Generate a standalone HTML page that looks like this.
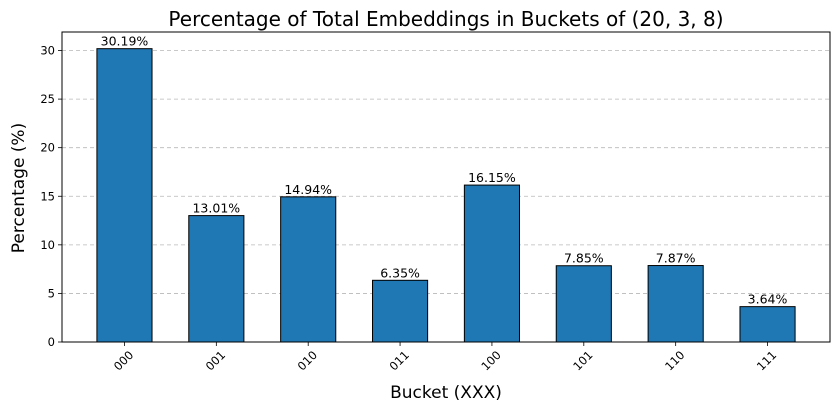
<!DOCTYPE html>
<html><head><meta charset="utf-8"><style>
body{margin:0;background:#fff;font-family:"Liberation Sans","DejaVu Sans",sans-serif;}
svg text{font-family:"DejaVu Sans","Liberation Sans",sans-serif;}
</style></head><body>
<svg id="chart" width="839" height="415" xmlns="http://www.w3.org/2000/svg"></svg>
<script>
const categories=["000","001","010","011","100","101","110","111"];
const values=[30.19,13.01,14.94,6.35,16.15,7.85,7.87,3.64];
const yTicks=[0,5,10,15,20,25,30];
const L=62,R=830,T=34,B=342;
const xMin=-0.68,xMax=7.68,yMax=31.7;
const xs=v=>L+(v-xMin)/(xMax-xMin)*(R-L);
const ys=v=>B-v/yMax*(B-T);
const svg=document.getElementById('chart');
const NS="http://www.w3.org/2000/svg";
function mk(tag,attrs,txt){const e=document.createElementNS(NS,tag);for(const k in attrs)e.setAttribute(k,attrs[k]);if(txt!==undefined)e.textContent=txt;svg.appendChild(e);return e;}
yTicks.forEach(t=>{
 const y=ys(t);
 if(t>0){const g=mk('line',{x1:L,x2:R,y1:y,y2:y,stroke:'#b8b8b8','stroke-dasharray':'4,3','stroke-width':0.8});
 
 }
 mk('line',{x1:L-4,x2:L,y1:y,y2:y,stroke:'#000','stroke-width':0.8});
 const tl=mk('text',{x:L-7,y:y+4,'text-anchor':'end','font-size':11.5},String(t));
 
 
});
categories.forEach((c,i)=>{
 const x0=xs(i-0.3),x1=xs(i+0.3),y=ys(values[i]);
 const b=mk('rect',{x:x0,y:y,width:x1-x0,height:B-y,fill:'#1f77b4',stroke:'#000','stroke-width':1});
 
 
 const v=mk('text',{x:xs(i),y:y-3,'text-anchor':'middle','font-size':12.5},values[i].toFixed(2)+'%');
 
 
 mk('line',{x1:xs(i),x2:xs(i),y1:B,y2:B+4,stroke:'#000','stroke-width':0.8});
 const tx=xs(i)+4,ty=B+8;
 const tl=mk('text',{x:tx,y:ty,'text-anchor':'end','font-size':11.5,transform:`rotate(-45 ${tx} ${ty})`,dy:'0.7em'},c);
 
 
});
const f=mk('rect',{x:L,y:T-2,width:R-L,height:B-T+2,fill:'none',stroke:'#000','stroke-width':1});


const ti=mk('text',{x:(L+R)/2,y:26,'text-anchor':'middle','font-size':20},'Percentage of Total Embeddings in Buckets of (20, 3, 8)');


const xl=mk('text',{x:(L+R)/2,y:398,'text-anchor':'middle','font-size':17},'Bucket (XXX)');


const yl=mk('text',{x:24,y:(T+B)/2,'text-anchor':'middle','font-size':17,transform:`rotate(-90 24 ${(T+B)/2})`},'Percentage (%)');


</script>
</body></html>
